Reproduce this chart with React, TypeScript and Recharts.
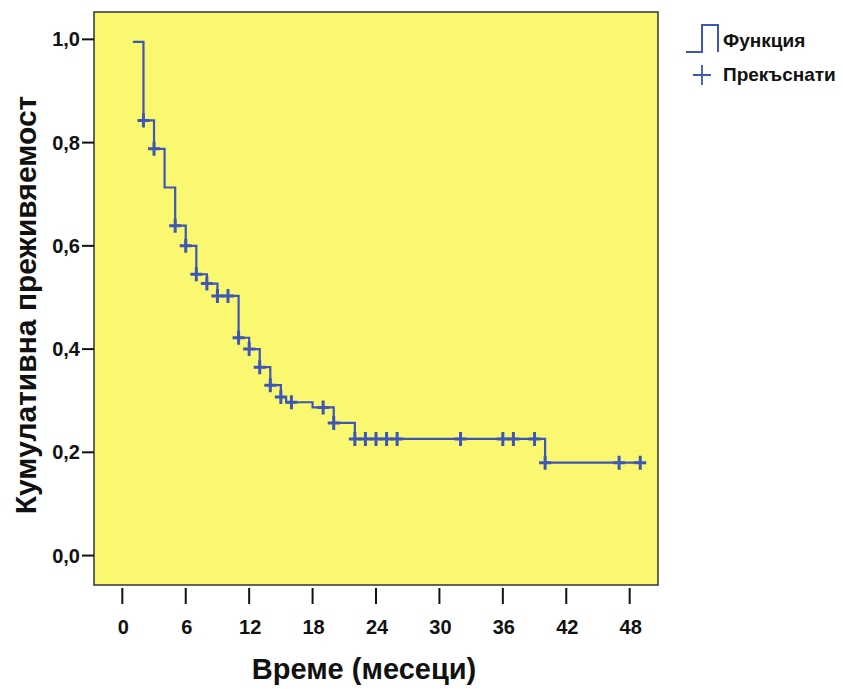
import { ComposedChart, Line, Scatter, XAxis, YAxis, ReferenceArea, Legend, Label } from 'recharts';

// Kaplan-Meier step function (time in months -> cumulative survival)
const stepTimes = [1, 2, 3, 4, 5, 6, 7, 8, 9, 11, 12, 13, 14, 15, 15.5, 18, 20, 22, 40, 49];
const stepSurvival = [0.995, 0.843, 0.788, 0.713, 0.639, 0.6, 0.545, 0.527, 0.503, 0.422, 0.4, 0.365, 0.33, 0.307, 0.297, 0.287, 0.257, 0.226, 0.18, 0.18];

// censored observations
const censorTimes = [2, 3, 5, 6, 7, 8, 9, 10, 11, 12, 13, 14, 15, 16, 19, 20, 22, 23, 24, 25, 26, 32, 36, 37, 39, 40, 47, 49];
const censorSurvival = [0.843, 0.788, 0.639, 0.6, 0.545, 0.527, 0.503, 0.503, 0.422, 0.4, 0.365, 0.33, 0.307, 0.297, 0.287, 0.257, 0.226, 0.226, 0.226, 0.226, 0.226, 0.226, 0.226, 0.226, 0.226, 0.18, 0.18, 0.18];

const xTicks = [0, 6, 12, 18, 24, 30, 36, 42, 48];
const yTicks = [0, 0.2, 0.4, 0.6, 0.8, 1.0];
const xDomain = [-2.68, 50.68];
const yDomain = [-0.057, 1.053];

const BLUE = '#3E56B4';
const FONT = '"Liberation Sans", Arial, sans-serif';

const stepData = stepTimes.map((t, i) => ({ t, s: stepSurvival[i] }));
const censorData = censorTimes.map((t, i) => ({ t, s: censorSurvival[i] }));

const fmt = (v: number) => v.toFixed(1).replace('.', ',');

function XTick(props: any) {
  const { x, y, payload } = props;
  return (
    <g>
      <line x1={x} x2={x} y1={y + 3} y2={y + 19} stroke="#111" strokeWidth={2} />
      <text x={x + 1} y={y + 49} textAnchor="middle" fontFamily={FONT} fontWeight="bold" fontSize={20} fill="#111">
        {payload.value}
      </text>
    </g>
  );
}

function Cross(props: any) {
  const { cx, cy } = props;
  if (cx == null || cy == null) return null;
  return (
    <path d={`M${cx - 6},${cy} H${cx + 6} M${cx},${cy - 7} V${cy + 7}`} stroke={BLUE} strokeWidth={3} fill="none" />
  );
}

function LegendBox() {
  return (
    <svg width={160} height={80} style={{ display: 'block' }}>
      <path d="M3,34 H19 V7 H35 V34" stroke={BLUE} strokeWidth={2} fill="none" />
      <text x={40} y={29} fontFamily={FONT} fontWeight="bold" fontSize={19} fill="#111">Функция</text>
      <path d="M10,57 H28 M19,47 V67" stroke={BLUE} strokeWidth={1.8} fill="none" />
      <text x={40} y={63} fontFamily={FONT} fontWeight="bold" fontSize={19} fill="#111">Прекъснати</text>
    </svg>
  );
}

export default function App() {
  return (
    <div style={{ position: 'absolute', left: 0, top: 0, background: '#fff' }}>
      <ComposedChart width={843} height={689} margin={{ top: 12, right: 185, bottom: 0, left: 0 }}>
        <ReferenceArea x1={xDomain[0]} x2={xDomain[1]} y1={yDomain[0]} y2={yDomain[1]} fill="#FAF870" fillOpacity={1} stroke="#333" strokeWidth={1.5} />
        <XAxis
          type="number"
          dataKey="t"
          domain={xDomain}
          allowDataOverflow
          ticks={xTicks}
          axisLine={false}
          tickLine={false}
          tickSize={0}
          tickMargin={0}
          height={104}
          tick={<XTick />}
          interval={0}
        >
          <Label
            content={() => (
              <text x={364} y={679} textAnchor="middle" fontFamily={FONT} fontWeight="bold" fontSize={29} fill="#111">
                Време (месеци)
              </text>
            )}
          />
        </XAxis>
        <YAxis
          type="number"
          domain={yDomain}
          allowDataOverflow
          ticks={yTicks}
          width={94}
          axisLine={false}
          tickLine={{ stroke: '#111', strokeWidth: 2 }}
          tickSize={12}
          tickMargin={2}
          tickFormatter={fmt}
          tick={{ fontFamily: FONT, fontWeight: 'bold', fontSize: 20, fill: '#111' }}
          interval={0}
        >
          <Label
            content={() => (
              <text x={36} y={305} transform="rotate(-90 36 305)" textAnchor="middle" fontFamily={FONT} fontWeight="bold" fontSize={30} fill="#111">
                Кумулативна преживяемост
              </text>
            )}
          />
        </YAxis>
        <Line data={stepData} dataKey="s" type="stepAfter" stroke={BLUE} strokeWidth={2.2} dot={false} activeDot={false} isAnimationActive={false} legendType="none" />
        <Scatter data={censorData} dataKey="s" shape={<Cross />} isAnimationActive={false} legendType="none" />
        <Legend
          layout="vertical"
          align="center"
          verticalAlign="middle"
          content={() => <LegendBox />}
          wrapperStyle={{ left: 683, top: 18, width: 160, height: 80 }}
        />
      </ComposedChart>
    </div>
  );
}
